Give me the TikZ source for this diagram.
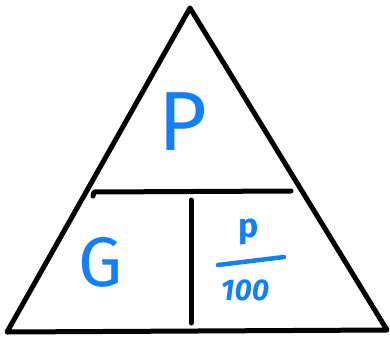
\documentclass[tikz,border=0pt]{standalone}
\usepackage{fontspec}
\setmainfont{Fira Sans}
\definecolor{inkblue}{RGB}{18,128,250}
\begin{document}
\begin{tikzpicture}[x=1pt,y=-1pt,
  stroke/.style={line width=5pt,line cap=round,line join=round,black},
  lbl/.style={text=inkblue,inner sep=0pt}]
\useasboundingbox (0,0) rectangle (390,337);
\coordinate (A) at (190,8);
\coordinate (B) at (7,332);
\coordinate (C) at (387,330);
\draw[stroke] (A) -- (B) -- (C) -- cycle;
\coordinate (h1) at (94,192);
\coordinate (h0) at (93,196);
\coordinate (h2) at (291,191);
\draw[stroke] (h0) -- (h1) -- (h2);
\coordinate (v1) at (191,200);
\coordinate (v2) at (191,323);
\draw[stroke] (v1) -- (v2);
\node[lbl,font=\fontsize{84}{84}\selectfont] (P) at (183,122) {P};
\node[lbl,font=\fontsize{70}{70}\selectfont] (G) at (101,262) {G};
\node[lbl,font=\fontsize{34}{34}\selectfont\bfseries] (p) at (249,232) {p};
\coordinate (f1) at (218,265);
\coordinate (f2) at (284,257);
\draw[line width=4.5pt,line cap=round,inkblue] (f1) -- (f2);
\node[lbl,font=\fontsize{30}{30}\selectfont\bfseries\itshape] (H) at (245,290) {100};
\end{tikzpicture}
\end{document}
